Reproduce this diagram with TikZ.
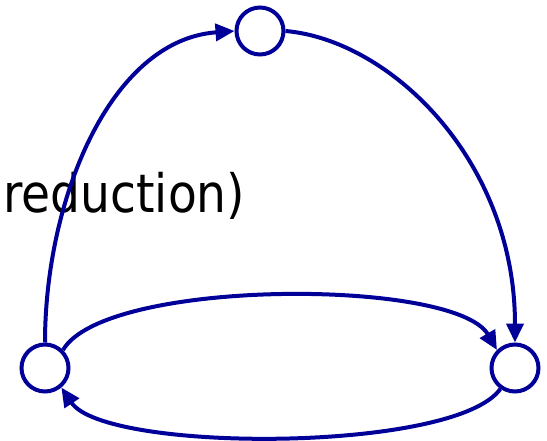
\documentclass[tikz,border=0pt]{standalone}
\usepackage{fontspec}
\usepackage{graphicx}
\setmainfont{DejaVu Sans}
\usetikzlibrary{calc,positioning}
\usetikzlibrary{arrows.meta}
\definecolor{arcblue}{RGB}{0,0,153}
\tikzset{
  state/.style={circle,draw=arcblue,line width=4pt,minimum size=47pt,inner sep=0pt},
  arc/.style={draw=arcblue,line width=4pt,-{Triangle[length=19pt,width=17pt]}}
}
\begin{document}
\begin{tikzpicture}[x=1pt,y=1pt]
				 %\draw[color=gray,step=10pt, help lines,opacity=0.3] (0,0) grid (547,440); %help grids
				 \useasboundingbox (0,0) rectangle (547,440);
				 \node[state] (top) at (260,409) {};
				 \node[state] (left) at (45,72) {};
				 \node[state] (right) at (515,72) {};
				 \node[anchor=base west,inner sep=0pt] (txt) at (3,227) {\scalebox{0.89}[1]{\fontsize{53}{60}\selectfont reduction)}};
				 \draw[arc] (left.north) .. controls (45,240) and (110,400) .. (top.west);
				 \draw[arc] (top.east) .. controls (390,400) and (515,280) .. (right.north);
				 \draw[arc] (left.45) .. controls (105,162) and (455,162) .. (right.135);
				 \draw[arc] (right.-125) .. controls (455,-13) and (105,-13) .. (left.-50);
				\end{tikzpicture}
\end{document}
